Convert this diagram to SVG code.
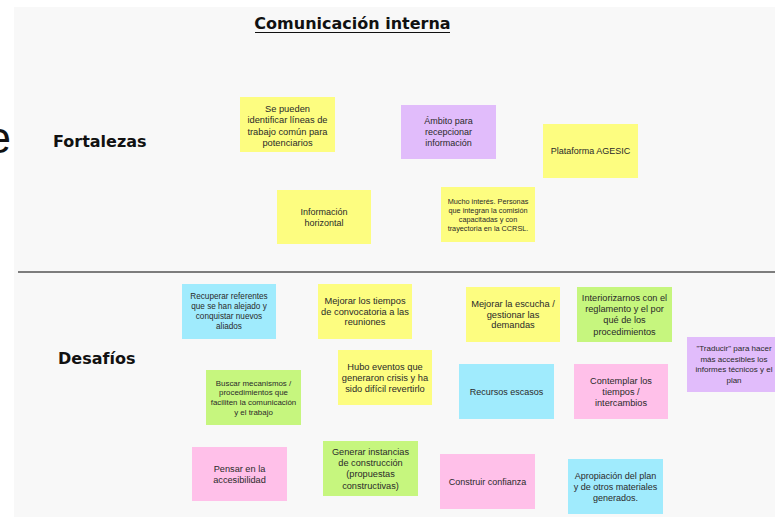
<svg xmlns="http://www.w3.org/2000/svg" width="775" height="519" viewBox="0 0 775 519">
<style>
.t{font-family:"Liberation Sans",Arial,sans-serif;font-size:9px;fill:#2a2a2a;text-anchor:middle}
.h{font-family:"DejaVu Sans",sans-serif;font-weight:bold;font-size:16px;fill:#111}
.y{fill:#fdfd80}.p{fill:#e1bcfb}.c{fill:#a0ebfd}.g{fill:#c6f67e}.k{fill:#ffc0e9}
</style>
<rect width="775" height="519" fill="#ffffff"/>
<rect x="14" y="7" width="761" height="510" fill="#f8f8f8"/>
<text x="11" y="153" font-family="Liberation Sans, Arial, sans-serif" font-size="44" fill="#111" text-anchor="end">e</text>
<g id="title">
<text class="h" x="352.5" y="29" text-anchor="middle">Comunicación interna</text>
<line x1="255" y1="32.5" x2="450" y2="32.5" stroke="#111" stroke-width="1.2"/>
</g>
<g id="fortalezas"><text class="h" x="53" y="147">Fortalezas</text></g>
<g id="desafios"><text class="h" x="58" y="364">Desafíos</text></g>
<line x1="18" y1="272" x2="775" y2="272" stroke="#555" stroke-width="1.5"/>

<g id="n1"><rect class="y" x="240" y="97" width="95" height="55"/>
<text class="t" style="font-size:9.3px"><tspan x="287.5" y="111.7">Se pueden</tspan><tspan x="287.5" y="123.2">identificar líneas de</tspan><tspan x="287.5" y="134.7">trabajo común para</tspan><tspan x="287.5" y="146.2">potenciarios</tspan></text></g>
<g id="n2"><rect class="p" x="401" y="105" width="95" height="54"/>
<text class="t"><tspan x="448.5" y="124.2">Ámbito para</tspan><tspan x="448.5" y="135.2">recepcionar</tspan><tspan x="448.5" y="146.2">información</tspan></text></g>
<g id="n3"><rect class="y" x="543" y="124" width="95" height="54"/>
<text class="t" x="590.5" y="154">Plataforma AGESIC</text></g>
<g id="n4"><rect class="y" x="277" y="190" width="94" height="54"/>
<text class="t"><tspan x="324" y="215.2">Información</tspan><tspan x="324" y="226.2">horizontal</tspan></text></g>
<g id="n5"><rect class="y" x="441" y="187" width="94" height="55"/>
<text class="t" style="font-size:7.3px"><tspan x="488" y="203.6">Mucho interés. Personas</tspan><tspan x="488" y="212.6">que integran la comisión</tspan><tspan x="488" y="221.6">capacitadas y con</tspan><tspan x="488" y="230.6">trayectoria en la CCRSL.</tspan></text></g>

<g id="n6"><rect class="c" x="182" y="284" width="94" height="55"/>
<text class="t" style="font-size:8.2px"><tspan x="229" y="299.4">Recuperar referentes</tspan><tspan x="229" y="309.4">que se han alejado y</tspan><tspan x="229" y="319.4">conquistar nuevos</tspan><tspan x="229" y="329.4">aliados</tspan></text></g>
<g id="n7"><rect class="y" x="318" y="284" width="94" height="55"/>
<text class="t" style="font-size:9.3px"><tspan x="365" y="304.3">Mejorar los tiempos</tspan><tspan x="365" y="314.8">de convocatoria a las</tspan><tspan x="365" y="325.3">reuniones</tspan></text></g>
<g id="n8"><rect class="y" x="466" y="287" width="94" height="55"/>
<text class="t" style="font-size:9.3px"><tspan x="513" y="307.3">Mejorar la escucha /</tspan><tspan x="513" y="317.8">gestionar las</tspan><tspan x="513" y="328.3">demandas</tspan></text></g>
<g id="n9"><rect class="g" x="577" y="287" width="95" height="55"/>
<text class="t" style="font-size:9.2px"><tspan x="624.5" y="300.8">Interiorizarnos con el</tspan><tspan x="624.5" y="312.1">reglamento y el por</tspan><tspan x="624.5" y="323.4">qué de los</tspan><tspan x="624.5" y="334.7">procedimientos</tspan></text></g>
<g id="n10"><rect class="p" x="687" y="337" width="94" height="55"/>
<text class="t" style="font-size:8px"><tspan x="734" y="350.8">"Traducir" para hacer</tspan><tspan x="734" y="361.6">más accesibles los</tspan><tspan x="734" y="372.4">informes técnicos y el</tspan><tspan x="734" y="383.2">plan</tspan></text></g>
<g id="n11"><rect class="g" x="206" y="370" width="95" height="55"/>
<text class="t" style="font-size:7.9px"><tspan x="253.5" y="385.6">Buscar mecanismos /</tspan><tspan x="253.5" y="395.4">procedimientos que</tspan><tspan x="253.5" y="405.2">faciliten la comunicación</tspan><tspan x="253.5" y="415">y el trabajo</tspan></text></g>
<g id="n12"><rect class="y" x="338" y="350" width="94" height="55"/>
<text class="t" style="font-size:9.3px"><tspan x="385" y="370">Hubo eventos que</tspan><tspan x="385" y="380.8">generaron crisis y ha</tspan><tspan x="385" y="391.6">sido difícil revertirlo</tspan></text></g>
<g id="n13"><rect class="c" x="459" y="364" width="95" height="55"/>
<text class="t" x="506.5" y="394.8">Recursos escasos</text></g>
<g id="n14"><rect class="k" x="574" y="364" width="94" height="55"/>
<text class="t" style="font-size:9.2px"><tspan x="621" y="384.1">Contemplar los</tspan><tspan x="621" y="394.8">tiempos /</tspan><tspan x="621" y="405.5">intercambios</tspan></text></g>
<g id="n15"><rect class="k" x="192" y="447" width="95" height="54"/>
<text class="t" style="font-size:9.2px"><tspan x="239.5" y="471.8">Pensar en la</tspan><tspan x="239.5" y="482.8">accesibilidad</tspan></text></g>
<g id="n16"><rect class="g" x="323" y="441" width="95" height="55"/>
<text class="t" style="font-size:9.2px"><tspan x="370.5" y="454.8">Generar instancias</tspan><tspan x="370.5" y="466.1">de construcción</tspan><tspan x="370.5" y="477.4">(propuestas</tspan><tspan x="370.5" y="488.7">constructivas)</tspan></text></g>
<g id="n17"><rect class="k" x="440" y="454" width="95" height="55"/>
<text class="t" x="487.5" y="484.8">Construir confianza</text></g>
<g id="n18"><rect class="c" x="568" y="459" width="95" height="55"/>
<text class="t"><tspan x="615.5" y="478.5">Apropiación del plan</tspan><tspan x="615.5" y="489.8">y de otros materiales</tspan><tspan x="615.5" y="501.1">generados.</tspan></text></g>
</svg>
